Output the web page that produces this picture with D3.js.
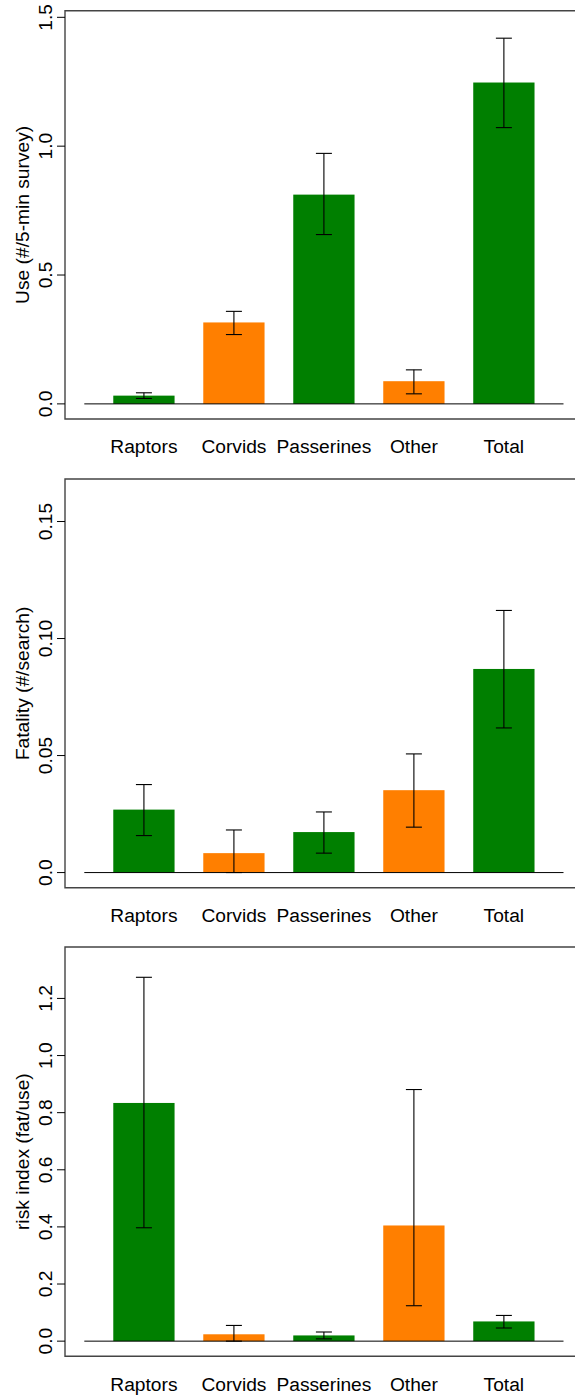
<!DOCTYPE html>
<html><head><meta charset="utf-8">
<script src="https://cdn.jsdelivr.net/npm/d3@7"></script>
<style>body{margin:0;background:#fff}svg{display:block}text{font-family:"Liberation Sans",Arial,sans-serif;fill:#000}</style>
</head><body><div id="chart"></div>
<script>
const categories = ["Raptors","Corvids","Passerines","Other","Total"];
const barColors = ["#007f00","#ff7f00","#007f00","#ff7f00","#007f00"];

const useValues = [0.032, 0.316, 0.812, 0.088, 1.247];
const useLower  = [0.021, 0.269, 0.657, 0.039, 1.072];
const useUpper  = [0.043, 0.359, 0.972, 0.132, 1.419];
const useTicks  = [0, 0.5, 1.0, 1.5];
const useTickLabels = ["0.0","0.5","1.0","1.5"];

const fatValues = [0.0269, 0.0083, 0.0173, 0.0352, 0.087];
const fatLower  = [0.0158, 0.0, 0.0083, 0.0194, 0.0618];
const fatUpper  = [0.0376, 0.0182, 0.0259, 0.0507, 0.112];
const fatTicks  = [0, 0.05, 0.10, 0.15];
const fatTickLabels = ["0.0","0.05","0.10","0.15"];

const riskValues = [0.834, 0.024, 0.020, 0.405, 0.069];
const riskLower  = [0.397, 0.0, 0.008, 0.124, 0.046];
const riskUpper  = [1.274, 0.055, 0.032, 0.881, 0.090];
const riskTicks  = [0, 0.2, 0.4, 0.6, 0.8, 1.0, 1.2];
const riskTickLabels = ["0.0","0.2","0.4","0.6","0.8","1.0","1.2"];

const panels = [
  {label:"Use (#/5-min survey)", values:useValues, lower:useLower, upper:useUpper, ticks:useTicks, tickLabels:useTickLabels, ymax:1.467, top:10.7, bottom:419},
  {label:"Fatality (#/search)", values:fatValues, lower:fatLower, upper:fatUpper, ticks:fatTicks, tickLabels:fatTickLabels, ymax:0.1617, top:479, bottom:887.7},
  {label:"risk index (fat/use)", values:riskValues, lower:riskLower, upper:riskUpper, ticks:riskTicks, tickLabels:riskTickLabels, ymax:1.327, top:947, bottom:1356.3}
];

const W = 575, H = 1397;
const FS = 19.2;
const svg = d3.select("#chart").append("svg").attr("width", W).attr("height", H);
const boxLeft = 65;
const x = d3.scaleBand().domain(categories).range([84.3, 563.5]).paddingInner(0.319).paddingOuter(0.322);

panels.forEach(p => {
  const pad = p.ymax * 0.04;
  const y = d3.scaleLinear().domain([-pad, p.ymax + pad]).range([p.bottom, p.top]);
  const g = svg.append("g");
  g.append("path").attr("d", `M${W+5},${p.top}H${boxLeft}V${p.bottom}H${W+5}`)
    .attr("fill","none").attr("stroke","#444").attr("stroke-width",1.4);
  g.selectAll("rect.bar").data(categories).join("rect")
    .attr("x", d => x(d)).attr("width", x.bandwidth())
    .attr("y", (d,i) => y(p.values[i])).attr("height", (d,i) => y(0) - y(p.values[i]))
    .attr("fill", (d,i) => barColors[i]);
  g.append("line").attr("x1", x.range()[0]).attr("x2", x.range()[1])
    .attr("y1", y(0)).attr("y2", y(0)).attr("stroke","#000").attr("stroke-width",1);
  const cap = 8;
  categories.forEach((c,i) => {
    const cx = x(c) + x.bandwidth()/2;
    g.append("line").attr("x1",cx).attr("x2",cx).attr("y1",y(p.lower[i])).attr("y2",y(p.upper[i])).attr("stroke","#000").attr("stroke-width",1.1);
    [p.lower[i], p.upper[i]].forEach(v => {
      g.append("line").attr("x1",cx-cap).attr("x2",cx+cap).attr("y1",y(v)).attr("y2",y(v)).attr("stroke","#000").attr("stroke-width",1.1);
    });
  });
  p.ticks.forEach((t,i) => {
    g.append("line").attr("x1", boxLeft-8).attr("x2", boxLeft).attr("y1", y(t)).attr("y2", y(t)).attr("stroke","#000").attr("stroke-width",1);
    g.append("text").attr("transform", `translate(45.5,${y(t)}) rotate(-90)`)
      .attr("text-anchor","middle").attr("dy","0.36em").attr("font-size",FS).text(p.tickLabels[i]);
  });
  g.append("text").attr("transform", `translate(22,${(p.top+p.bottom)/2}) rotate(-90)`)
    .attr("text-anchor","middle").attr("dy","0.36em").attr("font-size",FS).text(p.label);
  categories.forEach(c => {
    g.append("text").attr("x", x(c) + x.bandwidth()/2).attr("y", p.bottom + 27.5)
      .attr("text-anchor","middle").attr("dy","0.36em").attr("font-size",FS).text(c);
  });
});
</script></body></html>
